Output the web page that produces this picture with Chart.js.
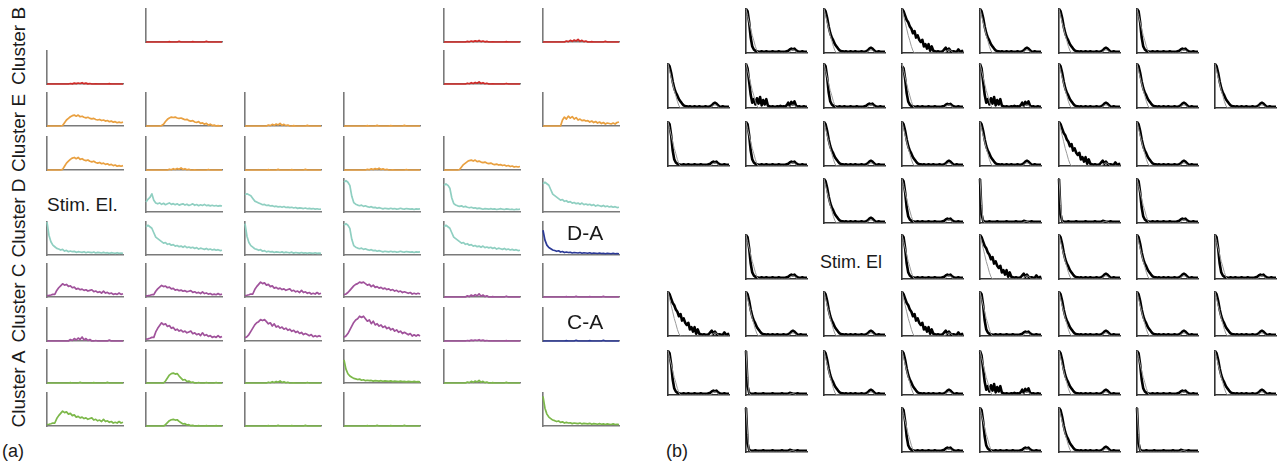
<!DOCTYPE html>
<html>
<head>
<meta charset="utf-8">
<script src="https://cdn.jsdelivr.net/npm/chart.js@4.4.0/dist/chart.umd.min.js"></script>
<style>
  body { margin:0; background:#fff; }
  #fig { position:relative; width:1281px; height:464px; overflow:hidden; font-family:"Liberation Sans", Arial, sans-serif; color:#1a1a1a; }
  #fig canvas { position:absolute; }
  .lbl { position:absolute; white-space:nowrap; line-height:1; }
  .rot { transform:translate(-50%,-50%) rotate(-90deg); }
</style>
</head>
<body>
<div id="fig"></div>
<script>
// ---- traces (40 bins each, 1 = top of the little axis) ----
const flat       = [0,0,0,0,0,0,0,0,0,0,0,0,0.01,0,0,0,0,0.02,0,0,0,0,0,0,0.01,0,0,0,0,0,0,0.02,0,0,0,0,0,0,0,0];
const specks     = [0,0,0,0,0,0,0,0,0,0,0,0,0.3,0.1,0.5,0.2,0.6,0.3,0.8,0.2,0.5,0.1,0.3,0,0,0.1,0,0,0,0,0,0,0.2,0,0,0,0,0,0,0];
const lateBump   = [0,0,0,0,0,0,0,0,0.05,0.3,0.55,0.7,0.85,0.95,1,0.9,1,0.85,0.9,0.8,0.75,0.8,0.7,0.65,0.7,0.6,0.55,0.6,0.5,0.55,0.45,0.5,0.4,0.45,0.35,0.4,0.3,0.35,0.3,0.35];
const fadeBump   = [0,0,0,0,0,0,0,0,0.05,0.2,0.5,0.75,0.9,1,0.95,1,0.9,0.85,0.9,0.8,0.7,0.75,0.6,0.55,0.6,0.45,0.4,0.5,0.3,0.35,0.2,0.3,0.1,0.2,0.05,0.1,0,0.05,0,0];
const lateNoisy  = [0,0,0,0,0,0,0,0,0,0,0.6,0.9,0.7,1,0.8,0.95,0.7,0.85,0.6,0.7,0.55,0.6,0.5,0.55,0.4,0.5,0.35,0.45,0.3,0.4,0.25,0.35,0.2,0.3,0.25,0.2,0.3,0.2,0.35,0.4];
const narrowBump = [0,0,0,0,0,0,0,0,0,0,0.2,0.5,0.8,0.95,1,0.9,0.95,0.7,0.5,0.3,0.35,0.15,0.2,0.05,0.1,0,0,0.05,0,0,0,0.05,0,0,0,0,0.05,0,0,0];
const earlyBump  = [0.1,0.12,0.15,0.2,0.2,0.5,0.7,0.85,1,0.9,0.95,0.8,0.85,0.7,0.75,0.6,0.65,0.55,0.6,0.5,0.55,0.45,0.5,0.55,0.4,0.45,0.35,0.4,0.3,0.45,0.3,0.35,0.25,0.3,0.2,0.25,0.2,0.3,0.2,0.25];
const broadBump  = [0.15,0.2,0.3,0.45,0.6,0.75,0.85,0.9,1,0.95,1,0.9,0.8,0.85,0.7,0.8,0.65,0.7,0.6,0.65,0.55,0.6,0.5,0.55,0.45,0.5,0.4,0.45,0.35,0.4,0.3,0.35,0.3,0.25,0.3,0.2,0.25,0.2,0.25,0.2];
const fastDecay  = [1,0.6,0.4,0.3,0.25,0.2,0.18,0.15,0.17,0.12,0.14,0.1,0.12,0.1,0.11,0.08,0.1,0.09,0.08,0.1,0.07,0.09,0.08,0.07,0.09,0.06,0.08,0.07,0.06,0.08,0.06,0.07,0.05,0.07,0.06,0.05,0.07,0.05,0.06,0.05];
const stepDecay  = [0.95,1,0.95,0.85,0.5,0.3,0.25,0.22,0.2,0.22,0.18,0.2,0.17,0.15,0.17,0.14,0.15,0.12,0.14,0.12,0.1,0.12,0.11,0.1,0.12,0.1,0.11,0.09,0.1,0.12,0.1,0.09,0.11,0.1,0.09,0.1,0.08,0.1,0.09,0.1];
const slowDecay  = [0.95,1,0.95,0.9,0.75,0.6,0.55,0.5,0.45,0.4,0.42,0.36,0.38,0.33,0.35,0.3,0.32,0.28,0.3,0.26,0.3,0.25,0.27,0.24,0.26,0.22,0.25,0.2,0.23,0.21,0.19,0.22,0.18,0.2,0.17,0.19,0.16,0.18,0.15,0.16];
const lowPeak    = [0.55,0.7,0.8,1,0.65,0.5,0.45,0.5,0.42,0.48,0.4,0.45,0.5,0.42,0.46,0.4,0.45,0.38,0.42,0.45,0.38,0.43,0.36,0.4,0.45,0.37,0.41,0.35,0.4,0.36,0.42,0.35,0.38,0.34,0.37,0.33,0.36,0.32,0.35,0.33];

const bFast  = [1,0.95,0.7,0.35,0.15,0.08,0.05,0.04,0.03,0.03,0.04,0.03,0.03,0.04,0.03,0.03,0.03,0.04,0.03,0.03,0.03,0.04,0.03,0.03,0.03,0.03,0.04,0.05,0.08,0.1,0.08,0.1,0.06,0.04,0.03,0.03,0.04,0.03,0.03,0.03];
const bMed   = [1,0.95,0.8,0.6,0.45,0.35,0.28,0.2,0.15,0.1,0.06,0.04,0.04,0.03,0.04,0.03,0.03,0.04,0.03,0.03,0.04,0.03,0.03,0.03,0.04,0.03,0.03,0.04,0.06,0.1,0.12,0.1,0.06,0.03,0.03,0.04,0.03,0.03,0.03,0.03];
const bSlow  = [1,0.95,0.85,0.75,0.7,0.6,0.55,0.45,0.5,0.35,0.4,0.3,0.25,0.3,0.15,0.2,0.1,0.2,0.05,0.15,0.05,0.04,0.03,0.04,0.03,0.03,0.04,0.08,0.12,0.05,0.1,0.05,0.03,0.04,0.03,0.03,0.08,0.04,0.03,0.06];
const bNoisy = [1,0.9,0.6,0.3,0.12,0.2,0.08,0.22,0.1,0.25,0.06,0.18,0.08,0.2,0.05,0.04,0.03,0.04,0.03,0.03,0.04,0.03,0.05,0.03,0.04,0.03,0.06,0.12,0.05,0.14,0.08,0.15,0.05,0.03,0.04,0.03,0.03,0.04,0.03,0.03];
const bSpike = [1,0.2,0.05,0.03,0.03,0.03,0.04,0.03,0.03,0.03,0.03,0.04,0.03,0.03,0.03,0.03,0.03,0.04,0.03,0.03,0.03,0.03,0.03,0.04,0.03,0.03,0.03,0.03,0.05,0.04,0.03,0.03,0.03,0.04,0.03,0.03,0.03,0.03,0.03,0.03];
const bModel = [1,0.85,0.7,0.55,0.4,0.28,0.15,0.05,0,0,0,0,0,0,0,0,0,0,0,0,0,0,0,0,0,0,0,0,0.03,0.06,0.07,0.06,0.03,0,0,0,0,0,0,0];
const bModelSpike = [1,0.4,0.05,0,0,0,0,0,0,0,0,0,0,0,0,0,0,0,0,0,0,0,0,0,0,0,0,0,0.02,0.03,0.03,0.02,0,0,0,0,0,0,0,0];

const clusterColor = { B:'#cf2a27', E:'#e9a040', D:'#8fcfc1', C:'#a0529b', A:'#7cb84a', X:'#2c3a97' };

// panel (a): [row, col, cluster, trace, peak height]
const cellsA = [
  [0,1,'B',flat,1],[0,4,'B',specks,0.06],[0,5,'B',specks,0.1],
  [1,0,'B',specks,0.05],[1,4,'B',specks,0.08],
  [2,0,'E',lateBump,0.33],[2,1,'E',fadeBump,0.27],[2,2,'E',specks,0.1],[2,3,'E',flat,1],[2,5,'E',lateNoisy,0.3],
  [3,0,'E',lateBump,0.38],[3,1,'E',specks,0.08],[3,2,'E',flat,1],[3,3,'E',specks,0.07],[3,4,'E',lateBump,0.3],
  [4,1,'D',lowPeak,0.55],[4,2,'D',slowDecay,0.55],[4,3,'D',stepDecay,0.95],[4,4,'D',stepDecay,0.85],[4,5,'D',slowDecay,0.9],
  [5,0,'D',fastDecay,1],[5,1,'D',slowDecay,0.9],[5,2,'D',fastDecay,0.95],[5,3,'D',stepDecay,0.95],[5,4,'D',slowDecay,0.9],[5,5,'X',fastDecay,0.75],
  [6,0,'C',earlyBump,0.4],[6,1,'C',earlyBump,0.35],[6,2,'C',earlyBump,0.45],[6,3,'C',broadBump,0.45],[6,4,'C',specks,0.12],[6,5,'C',flat,1],
  [7,0,'C',specks,0.15],[7,1,'C',earlyBump,0.55],[7,2,'C',broadBump,0.65],[7,3,'C',broadBump,0.75],[7,4,'C',specks,0.05],[7,5,'X',flat,1],
  [8,0,'A',flat,1],[8,1,'A',narrowBump,0.3],[8,2,'A',specks,0.08],[8,3,'A',fastDecay,0.7],[8,4,'A',specks,0.1],
  [9,0,'A',earlyBump,0.45],[9,1,'A',narrowBump,0.2],[9,2,'A',flat,1],[9,3,'A',flat,1],[9,5,'A',fastDecay,0.9]
];

// panel (b): [row, col, trace, peak height]
const cellsB = [
  [0,1,bFast,1],[0,2,bMed,1],[0,3,bSlow,1],[0,4,bMed,1],[0,5,bMed,1],[0,6,bFast,1],
  [1,0,bMed,1],[1,1,bNoisy,1],[1,2,bFast,1],[1,3,bFast,0.95],[1,4,bNoisy,1],[1,5,bMed,1],[1,6,bMed,1],[1,7,bMed,1],
  [2,0,bFast,1],[2,1,bFast,1],[2,2,bMed,1],[2,3,bMed,1],[2,4,bMed,1],[2,5,bSlow,1],[2,6,bMed,1],
  [3,2,bMed,1],[3,3,bFast,1],[3,4,bSpike,1],[3,5,bSpike,1],[3,6,bFast,1],
  [4,1,bFast,1],[4,3,bFast,1],[4,4,bSlow,1],[4,5,bMed,1],[4,6,bMed,1],[4,7,bFast,1],
  [5,0,bSlow,1],[5,1,bMed,1],[5,2,bMed,1],[5,3,bSlow,1],[5,4,bFast,1],[5,5,bMed,1],[5,6,bMed,1],[5,7,bMed,1],
  [6,0,bFast,1],[6,1,bSpike,1],[6,2,bMed,1],[6,3,bMed,1],[6,4,bNoisy,1],[6,5,bMed,1],[6,6,bFast,1],[6,7,bMed,1],
  [7,1,bSpike,1],[7,3,bFast,1],[7,4,bFast,1],[7,5,bMed,1],[7,6,bSpike,1]
];

// layout of the grids
const colXA = [47,146,245,344,444,543], rowBotA = [42,84,126,170,212,255,297,341,383,426];
const colXB = [668,746,824,902,980,1059,1137,1215], rowBotB = [53,108,166,223,279,336,395,452];

const fig = document.getElementById('fig');
const bins = flat.map((v,i) => i);
const PAD = 3;

function mini(left, bottom, w, h, datasets, axisColor) {
  const c = document.createElement('canvas');
  c.width = w + 2*PAD; c.height = h + 2*PAD;
  c.style.left = (left - PAD) + 'px';
  c.style.top = (bottom - h - PAD) + 'px';
  fig.appendChild(c);
  const ax = { ticks:{display:false}, grid:{display:false, drawTicks:false}, border:{display:true, color:axisColor, width:1.6} };
  new Chart(c, {
    type:'line',
    data:{ labels:bins, datasets },
    options:{
      responsive:false, animation:false, events:[],
      layout:{ padding:PAD },
      plugins:{ legend:{display:false}, tooltip:{enabled:false} },
      elements:{ point:{radius:0}, line:{tension:0, borderJoinStyle:'round'} },
      scales:{ x:Object.assign({offset:false}, ax), y:Object.assign({min:0, max:1}, ax) }
    }
  });
}

cellsA.forEach(([r, col, cl, tr, amp]) => {
  mini(colXA[col], rowBotA[r], 76, 33, [{
    data: tr.map(v => v*amp), borderColor: clusterColor[cl], borderWidth: 1.7, clip: false
  }], '#7a7a7a');
});

cellsB.forEach(([r, col, tr, amp]) => {
  const model = tr === bSpike ? bModelSpike : bModel;
  mini(colXB[col], rowBotB[r], 61, 44, [
    { data: model, borderColor:'#9a9a9a', borderWidth:1, clip:false },
    { data: tr.map(v => v*amp), borderColor:'#000', borderWidth:2.6, clip:false }
  ], '#333');
});

// text
function label(txt, x, y, size, cls) {
  const d = document.createElement('div');
  d.className = 'lbl' + (cls ? ' ' + cls : '');
  d.textContent = txt;
  d.style.left = x + 'px'; d.style.top = y + 'px'; d.style.fontSize = size + 'px';
  fig.appendChild(d);
}
[['Cluster B',46],['Cluster E',133],['Cluster D',218],['Cluster C',303],['Cluster A',389]]
  .forEach(([t, y]) => label(t, 18, y, 19, 'rot'));
label('Stim. El.', 47, 195, 19);
label('D-A', 567, 222, 21);
label('C-A', 567, 311, 21);
label('(a)', 2, 442, 18);
label('(b)', 666, 442, 18);
label('Stim. El', 820, 253, 18);
</script>
</body>
</html>
